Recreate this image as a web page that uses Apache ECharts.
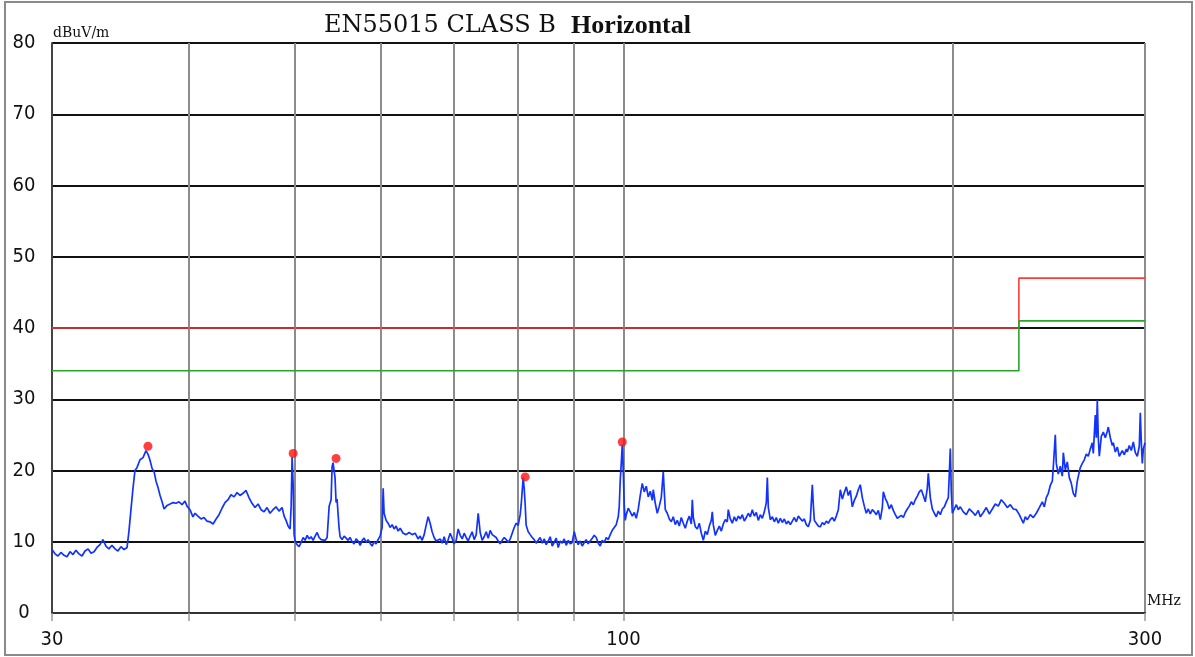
<!DOCTYPE html>
<html><head><meta charset="utf-8">
<script src="https://cdn.jsdelivr.net/npm/echarts@6/dist/echarts.min.js"></script>
<style>html,body{margin:0;padding:0;background:#fff}#c{width:1195px;height:657px}</style>
</head><body><div id="c"></div>
<script>
const titleMain = 'EN55015 CLASS B  ';
const titleBold = 'Horizontal';
const yUnit = 'dBuV/m';
const xUnit = 'MHz';
const yTicks = [0, 10, 20, 30, 40, 50, 60, 70, 80];
const gridFreqs = [30, 40, 50, 60, 70, 80, 90, 100, 200, 300];
const labelFreqs = [30, 100, 300];
const limitQp = [[30, 40], [230, 40], [230, 47], [300, 47]];
const limitAvg = [[30, 34], [230, 34], [230, 41], [300, 41]];
const peaks = [[36.72, 23.4], [49.86, 22.4], [54.58, 21.7], [81.29, 19.1], [99.74, 24.0]];
const trace = [
[30.00,8.9],[30.19,8.3],[30.38,8.0],[30.57,8.5],[30.77,8.1],[30.96,7.9],[31.16,8.6],[31.36,8.2],[31.55,8.8],[31.75,8.3],
[31.96,8.0],[32.16,8.7],[32.37,9.0],[32.57,8.4],[32.78,8.6],[32.98,9.2],[33.19,9.6],[33.40,10.3],[33.61,9.4],[33.82,9.0],
[34.04,9.5],[34.26,9.0],[34.47,8.7],[34.69,9.3],[34.92,8.9],[35.14,9.2],[35.28,11.5],[35.43,14.5],[35.58,17.5],[35.73,20.0],
[35.88,20.4],[36.11,21.5],[36.34,21.8],[36.57,22.8],[36.72,22.3],[36.87,21.5],[37.04,20.3],[37.20,19.8],[37.35,18.5],[37.51,17.6],
[37.67,16.5],[37.83,15.6],[37.99,14.6],[38.23,15.1],[38.47,15.3],[38.71,15.5],[38.96,15.4],[39.20,15.6],[39.45,15.2],[39.70,15.7],
[39.87,15.0],[40.12,14.5],[40.37,13.5],[40.55,14.0],[40.80,13.6],[41.06,13.2],[41.32,13.4],[41.58,12.9],[41.85,12.8],[42.12,12.5],
[42.39,13.2],[42.65,13.8],[42.92,14.7],[43.19,15.5],[43.47,15.9],[43.74,16.6],[44.03,16.3],[44.30,16.9],[44.58,16.5],[44.86,16.8],
[45.15,17.2],[45.43,16.2],[45.72,15.4],[46.01,14.8],[46.31,15.3],[46.60,14.5],[46.90,14.2],[47.19,14.8],[47.49,14.0],[47.79,14.5],
[48.09,14.9],[48.40,14.3],[48.71,14.8],[48.92,13.6],[49.12,13.0],[49.33,12.2],[49.54,11.8],[49.65,15.0],[49.75,21.9],[49.86,18.0],
[49.96,11.0],[50.07,10.1],[50.27,9.6],[50.49,9.3],[50.70,9.9],[50.92,10.6],[51.13,10.2],[51.35,10.9],[51.57,10.4],[51.78,10.7],
[52.00,10.2],[52.22,10.8],[52.44,11.3],[52.66,10.6],[52.89,10.3],[53.11,10.1],[53.34,10.2],[53.56,10.6],[53.79,15.0],[54.01,15.9],
[54.12,20.5],[54.23,21.1],[54.35,21.2],[54.46,19.0],[54.58,15.5],[54.69,16.0],[54.92,12.0],[55.04,10.7],[55.28,10.3],[55.51,10.8],
[55.75,10.5],[55.98,10.2],[56.21,10.6],[56.45,10.0],[56.69,9.7],[56.93,10.4],[57.17,10.1],[57.42,9.5],[57.66,10.2],[57.90,10.5],
[58.15,9.9],[58.39,10.3],[58.63,9.8],[58.88,9.4],[59.13,10.0],[59.38,9.7],[59.63,10.3],[59.88,10.8],[60.14,12.0],[60.27,17.5],
[60.39,14.0],[60.65,13.0],[60.90,12.6],[61.16,12.0],[61.42,12.4],[61.68,11.8],[61.94,12.2],[62.20,11.5],[62.47,11.9],[62.86,11.2],
[63.26,11.0],[63.66,11.3],[64.06,11.0],[64.47,11.2],[64.87,10.4],[65.15,10.8],[65.43,10.2],[65.71,11.0],[65.98,12.3],[66.26,13.5],
[66.54,12.6],[66.82,11.4],[67.10,10.6],[67.39,10.1],[67.67,9.9],[67.96,10.4],[68.25,9.8],[68.54,10.7],[68.83,9.6],[69.12,10.3],
[69.41,11.2],[69.70,10.5],[69.99,9.7],[70.29,10.2],[70.59,11.8],[70.89,10.9],[71.19,10.4],[71.49,11.2],[71.79,10.6],[72.09,10.1],
[72.40,10.8],[72.70,11.4],[73.01,10.3],[73.32,11.0],[73.63,14.0],[73.94,11.3],[74.25,10.2],[74.56,10.7],[74.88,11.4],[75.20,10.5],
[75.51,11.6],[75.83,11.0],[76.15,11.2],[76.47,10.6],[76.80,10.1],[77.12,9.7],[77.45,10.2],[77.78,10.6],[78.11,10.3],[78.44,9.9],
[78.77,10.4],[79.10,11.2],[79.43,12.0],[79.77,12.6],[80.10,12.3],[80.44,13.8],[80.61,15.2],[80.78,15.0],[80.95,19.0],[81.12,17.5],
[81.29,15.2],[81.46,12.3],[81.81,11.4],[82.15,11.0],[82.50,10.6],[82.85,10.3],[83.20,9.8],[83.55,10.2],[83.90,10.6],[84.26,9.8],
[84.62,10.4],[84.97,9.6],[85.33,10.1],[85.69,10.7],[86.05,9.4],[86.41,9.9],[86.78,10.5],[87.15,9.2],[87.52,10.1],[87.89,9.8],
[88.26,10.4],[88.63,9.5],[89.01,10.2],[89.38,9.7],[89.76,9.9],[90.14,11.4],[90.52,10.3],[90.90,9.6],[91.28,10.1],[91.67,9.4],
[92.06,9.9],[92.44,10.3],[92.83,9.7],[93.22,10.1],[93.63,10.5],[94.02,10.9],[94.42,10.6],[94.82,9.8],[95.22,9.4],[95.62,10.2],
[96.02,9.9],[96.43,10.6],[96.83,10.3],[97.25,11.0],[97.66,11.6],[98.07,12.0],[98.48,12.4],[98.90,13.5],[99.11,15.0],[99.32,18.7],
[99.53,21.0],[99.74,23.6],[99.95,20.0],[100.16,15.0],[100.37,13.0],[100.58,13.8],[101.00,14.7],[101.43,14.2],[101.86,13.6],[102.29,14.1],
[102.72,13.3],[103.16,14.6],[103.59,16.5],[104.03,18.2],[104.47,17.0],[104.91,17.8],[105.35,16.3],[105.80,17.1],[106.25,15.8],[106.47,17.3],
[106.92,15.4],[107.37,14.0],[107.83,15.0],[108.28,16.2],[108.74,19.8],[108.97,17.0],[109.20,14.5],[109.66,14.0],[110.13,13.2],[110.59,12.8],
[111.05,13.5],[111.52,12.4],[111.99,13.0],[112.47,12.2],[112.94,13.4],[113.42,12.6],[113.90,11.9],[114.38,12.9],[114.86,13.6],[115.36,12.5],
[115.60,15.9],[115.84,13.4],[116.33,12.1],[116.82,11.8],[117.31,12.6],[117.81,11.2],[118.31,10.2],[118.81,11.5],[119.31,11.0],[119.81,12.2],
[120.32,13.0],[120.57,14.2],[120.82,12.4],[121.33,10.9],[121.85,11.6],[122.37,12.2],[122.88,11.5],[123.40,12.5],[123.92,13.1],[124.44,12.8],
[124.70,14.5],[125.23,13.2],[125.76,12.6],[126.29,13.5],[126.82,12.9],[127.36,13.6],[127.90,13.2],[128.44,13.8],[128.98,12.9],[129.52,13.4],
[130.07,14.0],[130.62,13.5],[131.17,14.5],[131.72,13.6],[132.28,14.1],[132.84,13.0],[133.40,13.8],[133.97,13.3],[134.54,14.2],[135.10,15.5],
[135.39,19.0],[135.67,14.8],[136.25,13.1],[136.82,13.5],[137.40,12.8],[137.98,13.4],[138.56,12.6],[139.15,13.3],[139.73,12.7],[140.32,13.2],
[140.92,12.5],[141.51,12.9],[142.11,12.4],[142.71,12.9],[143.31,13.4],[143.92,12.8],[144.53,13.6],[145.14,13.5],[145.74,12.9],[146.36,13.2],
[146.97,12.4],[147.59,12.1],[148.22,13.0],[148.85,18.0],[149.16,15.2],[149.48,13.0],[150.11,12.6],[150.74,12.2],[151.38,12.1],[152.02,12.7],
[152.66,12.4],[153.30,12.9],[153.95,12.6],[154.60,13.1],[155.25,13.4],[155.91,12.9],[156.57,13.6],[157.23,14.5],[157.89,17.3],[158.56,16.0],
[159.23,16.9],[159.90,17.7],[160.58,16.5],[161.25,17.2],[161.93,14.9],[162.61,15.8],[163.30,16.4],[163.98,17.3],[164.68,18.0],[165.38,16.2],
[166.08,15.0],[166.78,14.0],[167.48,14.6],[168.19,13.9],[168.90,14.5],[169.61,14.2],[170.33,13.8],[171.05,14.4],[171.77,13.1],[172.50,14.8],
[172.86,17.0],[173.59,16.1],[174.32,15.5],[175.06,14.6],[175.80,15.2],[176.54,14.4],[177.29,13.8],[178.04,13.3],[178.79,13.1],[179.54,13.7],
[180.30,13.4],[181.06,14.1],[181.83,14.6],[182.59,15.0],[183.36,15.6],[184.14,15.2],[184.92,15.9],[185.70,16.4],[186.48,17.0],[187.26,17.3],
[188.06,16.5],[188.85,15.6],[189.64,17.5],[190.04,19.6],[190.85,16.2],[191.66,14.6],[192.47,14.0],[193.28,13.5],[194.09,14.3],[194.91,13.8],
[195.74,14.6],[196.57,14.9],[197.40,15.6],[198.23,16.2],[198.65,19.5],[199.07,23.1],[199.49,17.0],[199.91,14.0],[200.75,14.6],[201.60,15.2],
[202.44,14.5],[203.30,14.9],[204.59,14.2],[205.89,13.8],[207.19,14.6],[208.51,14.2],[209.83,13.7],[211.15,14.4],[212.05,13.5],[213.40,14.1],
[214.75,14.8],[216.10,13.9],[217.48,14.6],[218.86,15.3],[220.24,15.0],[221.64,15.9],[223.05,15.4],[224.46,14.8],[225.88,15.2],[227.32,14.6],
[228.76,14.5],[230.21,13.8],[231.18,13.2],[232.16,12.6],[233.14,13.5],[234.13,13.1],[235.61,13.8],[237.10,13.4],[238.60,14.0],[240.12,14.8],
[241.64,15.6],[242.66,14.9],[243.68,16.2],[244.71,16.8],[245.74,17.9],[246.78,18.5],[247.30,20.5],[248.34,25.0],[248.86,21.0],[249.91,19.5],
[250.97,20.6],[252.04,19.2],[252.57,22.5],[253.63,20.1],[254.70,21.2],[255.78,19.0],[256.86,18.2],[257.94,16.8],[259.03,16.3],[260.12,18.5],
[261.22,19.8],[261.77,20.4],[262.88,21.0],[263.99,21.5],[265.10,22.3],[266.22,22.0],[267.34,23.0],[268.48,23.9],[269.05,22.4],[270.18,27.8],
[270.75,24.6],[271.32,29.9],[271.89,24.5],[272.47,22.0],[273.62,24.8],[274.78,25.4],[275.94,24.6],[277.10,25.5],[277.69,26.1],[278.86,24.6],
[280.03,23.5],[280.62,23.9],[281.81,22.6],[283.00,23.3],[284.19,22.0],[284.79,21.9],[285.99,22.8],[287.20,22.2],[288.41,23.0],[289.02,22.6],
[290.24,23.5],[291.47,22.8],[292.70,24.0],[293.94,22.5],[295.18,22.0],[296.42,23.4],[297.05,28.1],[297.67,24.0],[298.30,21.0],[298.93,23.0],
[300.00,23.9]
];

const chart = echarts.init(document.getElementById('c'), null, {renderer: 'canvas'});
const serif = '"DejaVu Serif", "Liberation Serif", serif';
const times = '"Liberation Serif", "DejaVu Serif", serif';
const narrow = '"DejaVu Sans Condensed", "Liberation Sans", sans-serif';
chart.setOption({
  animation: false,
  backgroundColor: '#fff',
  title: {
    text: '{a|' + titleMain + '}{b|' + titleBold + '}',
    left: 319, top: 8,
    textStyle: {
      fontWeight: 'normal',
      rich: {
        a: {fontFamily: serif, fontSize: 24, fontWeight: 'normal', color: '#111'},
        b: {fontFamily: times, fontSize: 26, fontWeight: 'bold', color: '#111'}
      }
    }
  },
  graphic: [
    {type: 'rect', shape: {x: 5, y: 2, width: 1187, height: 653}, style: {fill: 'none', stroke: '#8a8a8a', lineWidth: 2}, silent: true},
    {type: 'text', left: 53, top: 26, style: {text: yUnit, fontFamily: serif, fontSize: 14, fill: '#111'}},
    {type: 'text', left: 1147, top: 594, style: {text: xUnit, fontFamily: serif, fontSize: 14, fill: '#111'}}
  ],
  grid: {left: 52, top: 43, right: 50, bottom: 44, containLabel: false},
  xAxis: {
    type: 'log', logBase: 10, min: 30, max: 300,
    axisLine: {show: true, onZero: false, lineStyle: {color: '#333', width: 2}},
    axisTick: {show: true, customValues: gridFreqs, length: 8, lineStyle: {color: '#999', width: 1.5}},
    axisLabel: {show: true, customValues: labelFreqs, margin: 17, fontFamily: narrow, fontSize: 20, color: '#111'},
    splitLine: {show: true, lineStyle: {color: '#8c8c8c', width: 2}}
  },
  yAxis: {
    type: 'value', min: yTicks[0], max: yTicks[yTicks.length - 1], interval: 10,
    axisLine: {show: true, lineStyle: {color: '#444', width: 2}},
    axisTick: {show: false},
    axisLabel: {margin: 28, align: 'center', fontFamily: narrow, fontSize: 20, color: '#111'},
    splitLine: {show: true, lineStyle: {color: '#111', width: 1.8}}
  },
  series: [
    {type: 'line', data: limitQp, symbol: 'none', lineStyle: {color: '#ff3a3a', width: 1.6}, z: 3},
    {type: 'line', data: limitAvg, symbol: 'none', lineStyle: {color: '#2aa52a', width: 1.6}, z: 3},
    {type: 'line', data: trace, symbol: 'none', lineStyle: {color: '#1232ff', width: 1.7}, z: 4},
    {type: 'scatter', data: peaks, symbol: 'circle', symbolSize: 9, itemStyle: {color: '#ff1010'}, z: 5}
  ]
});
</script></body></html>
